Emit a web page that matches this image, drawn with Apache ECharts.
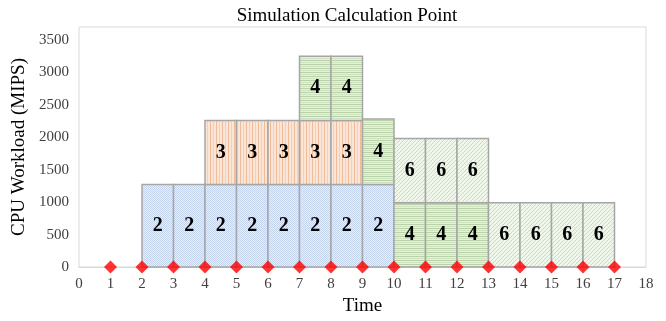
<!DOCTYPE html>
<html>
<head>
<meta charset="utf-8">
<script src="https://cdn.jsdelivr.net/npm/echarts@6/dist/echarts.min.js"></script>
<style>
  html, body { margin: 0; padding: 0; background: #fff; }
  #main { width: 666px; height: 321px; }
</style>
</head>
<body>
<div id="main"></div>
<script>
// cells: time slot start, bottom load, top load, task label
var cellTime = [2, 3, 4, 5, 6, 7, 8, 9,   4, 5, 6, 7, 8,   7, 8,   9,   10, 11, 12,   10, 11, 12,   13, 14, 15, 16];
var cellBase = [0, 0, 0, 0, 0, 0, 0, 0,   1270, 1270, 1270, 1270, 1270,   2260, 2260,   1270,   0, 0, 0,   990, 990, 990,   0, 0, 0, 0];
var cellTop  = [1270, 1270, 1270, 1270, 1270, 1270, 1270, 1270,   2260, 2260, 2260, 2260, 2260,   3250, 3250,   2280,   990, 990, 990,   1980, 1980, 1980,   990, 990, 990, 990];
var cellTask = [2, 2, 2, 2, 2, 2, 2, 2,   3, 3, 3, 3, 3,   4, 4,   4,   4, 4, 4,   6, 6, 6,   6, 6, 6, 6];

// calculation points
var pointTime = [1, 2, 3, 4, 5, 6, 7, 8, 9, 10, 11, 12, 13, 14, 15, 16, 17];
var pointLoad = [0, 0, 0, 0, 0, 0, 0, 0, 0, 0, 0, 0, 0, 0, 0, 0, 0];

var yTicks = [0, 500, 1000, 1500, 2000, 2500, 3000, 3500];

//生成填充图案
function makePattern(w, h, draw) {
    var c = document.createElement('canvas');
    c.width = w;
    c.height = h;
    var ctx = c.getContext('2d');
    draw(ctx);
    return { image: c, repeat: 'repeat' };
}

var patterns = {
    2: makePattern(2, 2, function (ctx) {
        ctx.fillStyle = '#e8eef8'; ctx.fillRect(0, 0, 2, 2);
        ctx.fillStyle = '#c4d4ec'; ctx.fillRect(0, 0, 1, 1); ctx.fillRect(1, 1, 1, 1);
    }),
    3: makePattern(6, 1, function (ctx) {
        ctx.fillStyle = '#fae6d9'; ctx.fillRect(0, 0, 6, 1);
        ctx.fillStyle = '#f0bc98'; ctx.fillRect(0, 0, 1, 1);
        ctx.fillStyle = '#f5d0b6'; ctx.fillRect(3, 0, 1, 1);
    }),
    4: makePattern(1, 4, function (ctx) {
        ctx.fillStyle = '#e6efdf'; ctx.fillRect(0, 0, 1, 4);
        ctx.fillStyle = '#b8d3a5'; ctx.fillRect(0, 0, 1, 1);
        ctx.fillStyle = '#d0e2c3'; ctx.fillRect(0, 2, 1, 1);
    }),
    6: makePattern(4, 4, function (ctx) {
        ctx.fillStyle = '#eff6ea'; ctx.fillRect(0, 0, 4, 4);
        ctx.fillStyle = '#c8dfb8';
        for (var i = 0; i < 4; i++) { ctx.fillRect(i, 3 - i, 1, 1); }
    })
};

var cellData = [];
for (var i = 0; i < cellTime.length; i++) {
    cellData.push([cellTime[i], cellBase[i], cellTop[i], cellTask[i]]);
}
var pointData = [];
for (var j = 0; j < pointTime.length; j++) {
    pointData.push([pointTime[j], pointLoad[j]]);
}

var serif = '"Liberation Serif", "Times New Roman", serif';
var chart = echarts.init(document.getElementById('main'));
var option = {
    animation: false,
    title: {
        text: 'Simulation Calculation Point',
        left: 342, textAlign: 'center', top: 2,
        textStyle: { fontFamily: serif, fontSize: 19, fontWeight: 'normal', color: '#000' }
    },
    grid: {
        left: 79, right: 20, top: 27, bottom: 54,
        show: true, borderColor: '#d9d9d9', borderWidth: 1
    },
    xAxis: {
        type: 'value', min: 0, max: 18, interval: 1,
        name: 'Time', nameLocation: 'middle', nameGap: 30,
        nameTextStyle: { fontFamily: serif, fontSize: 19, color: '#000' },
        axisLine: { show: true, lineStyle: { color: '#d9d9d9' } },
        axisTick: { show: false },
        splitLine: { show: false },
        axisLabel: { fontFamily: serif, fontSize: 15, color: '#404040', margin: 10 }
    },
    yAxis: {
        type: 'value', min: 0, max: 3700, interval: 500,
        name: 'CPU Workload (MIPS)', nameLocation: 'middle', nameGap: 43,
        nameTextStyle: { fontFamily: serif, fontSize: 19, color: '#000' },
        axisLine: { show: false },
        axisTick: { show: false },
        splitLine: { show: false },
        axisLabel: {
            fontFamily: serif, fontSize: 15, color: '#404040', margin: 10,
            showMaxLabel: false,
            formatter: function (v) { return yTicks.indexOf(v) >= 0 ? String(v) : ''; }
        }
    },
    series: [
        {
            type: 'custom',
            data: cellData,
            encode: { x: 0, y: [1, 2] },
            renderItem: function (params, api) {
                var t = api.value(0);
                var p0 = api.coord([t, api.value(2)]);
                var p1 = api.coord([t + 1, api.value(1)]);
                var task = api.value(3);
                return {
                    type: 'rect',
                    shape: { x: p0[0], y: p0[1], width: p1[0] - p0[0], height: p1[1] - p0[1] },
                    style: { fill: patterns[task], stroke: '#a6a6a6', lineWidth: 1.5 },
                    textContent: {
                        style: {
                            text: String(task),
                            font: 'bold 20px ' + serif,
                            fill: '#000'
                        }
                    },
                    textConfig: { position: 'inside' }
                };
            },
            z: 2
        },
        {
            type: 'scatter',
            data: pointData,
            symbol: 'diamond',
            symbolSize: [13, 13],
            itemStyle: { color: '#ff0000' },
            z: 5
        }
    ]
};
chart.setOption(option);
</script>
</body>
</html>
